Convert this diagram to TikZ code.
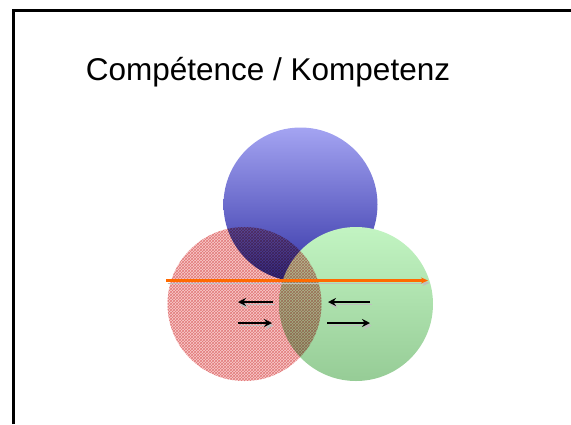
\documentclass[tikz,border=0pt]{standalone}
\usepackage{fontspec}
\setmainfont{Liberation Sans}
\usetikzlibrary{patterns, arrows.meta}
\usepackage{xcolor}
\definecolor{bluetop}{HTML}{A4A4F2}
\definecolor{bluebot}{HTML}{3434A6}
\definecolor{greentop}{HTML}{C2F4C2}
\definecolor{greenbot}{HTML}{96CC96}
\definecolor{redfill}{HTML}{F8CCCC}
\definecolor{redgrid}{HTML}{EA9C9C}
\definecolor{orangeline}{HTML}{FF6A00}

\tikzset{
	venn/.style={circle, minimum size=154pt, inner sep=0pt},
	shadowed/.style={preaction={draw=gray!50, transform canvas={xshift=1.5pt, yshift=-2.5pt}}},
	flow/.style={line width=2.4pt, -{Stealth[length=8pt, width=8pt]}, shadowed},
}

\begin{document}
\begin{tikzpicture}[x=1pt, y=-1pt]
	\useasboundingbox (0, 0) rectangle (571, 424);

	% frame
	\draw[line width=3pt] (13.5, 424) -- (13.5, 10.5) -- (575, 10.5);

	% title
	\node[anchor=base, font=\fontsize{31.5}{36}\selectfont] (title) at (268, 80) {Compétence / Kompetenz};

	% circles
	\node[venn, top color=bluetop, bottom color=bluebot] (blue) at (300.5, 204.5) {};
	\node[venn, top color=greentop, bottom color=greenbot] (green) at (356, 304) {};
	\begin{scope}[blend mode=multiply]
		\node[venn, fill=redfill] (redbg) at (244.5, 304) {};
		\node[venn, pattern=crosshatch, pattern color=redgrid] (red) at (244.5, 304) {};
	\end{scope}

	% orange line
	\coordinate (oL) at (166, 280.5);
	\coordinate (oR) at (428, 280.5);
	\draw[orangeline, line width=2.4pt, -{Stealth[length=7pt, width=6pt]}, shadowed] (oL) -- (oR);

	% arrows
	\coordinate (a1) at (273, 302);
	\coordinate (a2) at (238, 302);
	\coordinate (b1) at (238, 323);
	\coordinate (b2) at (272, 323);
	\coordinate (c1) at (370, 302);
	\coordinate (c2) at (328, 302);
	\coordinate (d1) at (327, 323);
	\coordinate (d2) at (370, 323);
	\draw[flow] (a1) -- (a2);
	\draw[flow] (b1) -- (b2);
	\draw[flow] (c1) -- (c2);
	\draw[flow] (d1) -- (d2);
\end{tikzpicture}
\end{document}
